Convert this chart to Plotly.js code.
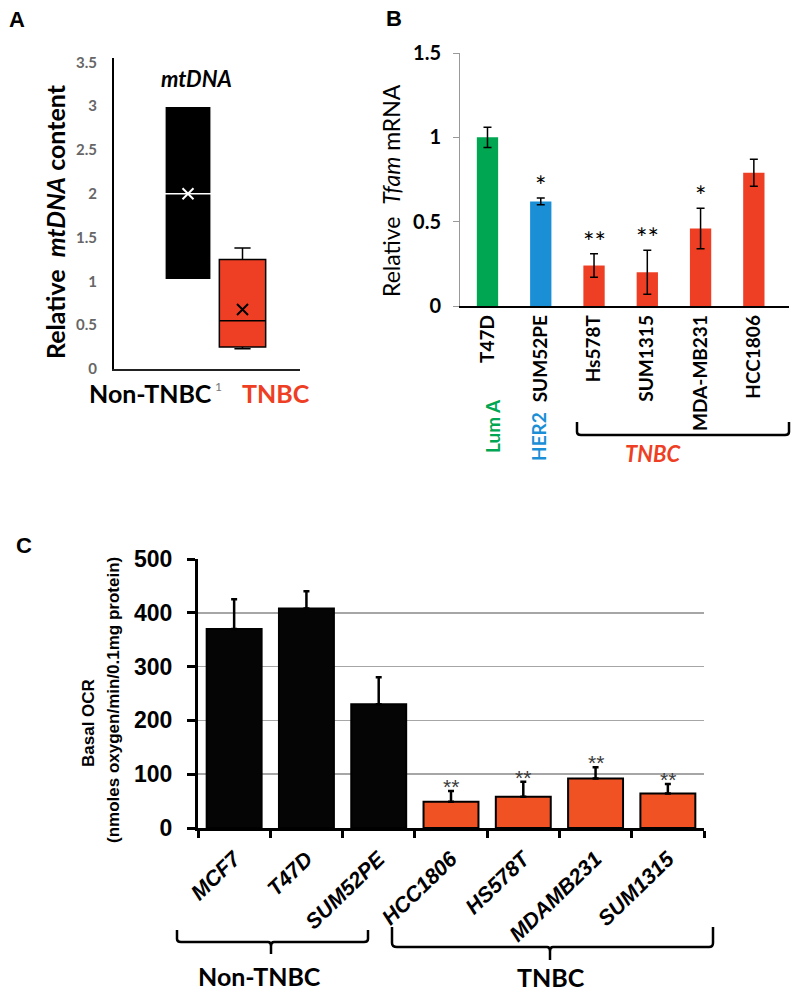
<!DOCTYPE html>
<html>
<head>
<meta charset="utf-8">
<script src="https://cdn.plot.ly/plotly-3.0.1.min.js"></script>
<style>html,body{margin:0;padding:0;background:#fff;}#chart{width:800px;height:995px;}</style>
</head>
<body>
<div id="chart"></div>
<script>
// ---------- Panel A data (box summary) ----------
const A_groups = ['Non-TNBC', 'TNBC'];
const A_q1 = [1.02, 0.25];
const A_median = [2.0, 0.55];
const A_q3 = [3.0, 1.25];
const A_lowerfence = [1.02, 0.23];
const A_upperfence = [3.0, 1.38];
const A_mean = [2.0, 0.68];
const A_ticks = [0, 0.5, 1, 1.5, 2, 2.5, 3, 3.5];

// ---------- Panel B data ----------
const B_lines = ['T47D', 'SUM52PE', 'Hs578T', 'SUM1315', 'MDA-MB231', 'HCC1806'];
const B_subtype = ['Lum A', 'HER2', 'TNBC', 'TNBC', 'TNBC', 'TNBC'];
const B_values = [1.00, 0.62, 0.24, 0.20, 0.46, 0.79];
const B_errors = [0.06, 0.02, 0.07, 0.13, 0.12, 0.08];
const B_sig = ['', '*', '**', '**', '*', ''];
const B_ticks = [0, 0.5, 1, 1.5];

// ---------- Panel C data ----------
const C_lines = ['MCF7', 'T47D', 'SUM52PE', 'HCC1806', 'HS578T', 'MDAMB231', 'SUM1315'];
const C_group = ['Non-TNBC', 'Non-TNBC', 'Non-TNBC', 'TNBC', 'TNBC', 'TNBC', 'TNBC'];
const C_values = [370, 408, 230, 49, 58, 92, 64];
const C_errors = [55, 32, 50, 20, 28, 21, 18];
const C_sig = ['', '', '', '**', '**', '**', '**'];

// ---------- styles ----------
const RED = '#ee3e23';
const GREEN = '#00a651';
const BLUE = '#1b8fd6';
const ORANGE = '#f05224';
const subtypeColor = {'Lum A': GREEN, 'HER2': BLUE, 'TNBC': RED};
const groupColor = {'Non-TNBC': '#050505', 'TNBC': ORANGE};
const CAL = 'Lato, "Open Sans", sans-serif';
const ARI = '"Liberation Sans", Arial, sans-serif';

const W = 800, H = 995;
const px = x => x / W;
const py = y => 1 - y / H;

const traces = [];

// Panel A boxes
traces.push({
  type: 'box', xaxis: 'x', yaxis: 'y',
  x: [0], q1: [A_q1[0]], median: [A_median[0]], q3: [A_q3[0]],
  lowerfence: [A_lowerfence[0]], upperfence: [A_upperfence[0]],
  fillcolor: '#000000', line: {color: '#ffffff', width: 1.5},
  width: 0.85, whiskerwidth: 0.35, boxpoints: false, hoverinfo: 'skip', showlegend: false
});
traces.push({
  type: 'box', xaxis: 'x', yaxis: 'y',
  x: [1], q1: [A_q1[1]], median: [A_median[1]], q3: [A_q3[1]],
  lowerfence: [A_lowerfence[1]], upperfence: [A_upperfence[1]],
  fillcolor: RED, line: {color: '#000000', width: 1.5},
  width: 0.85, whiskerwidth: 0.35, boxpoints: false, hoverinfo: 'skip', showlegend: false
});
traces.push({
  type: 'scatter', mode: 'markers', xaxis: 'x', yaxis: 'y',
  x: [0, 1], y: A_mean,
  marker: {symbol: 'x-thin', size: 11, line: {width: 2, color: ['#ffffff', '#000000']}},
  hoverinfo: 'skip', showlegend: false
});

// Panel B bars
traces.push({
  type: 'bar', xaxis: 'x2', yaxis: 'y2',
  x: B_lines, y: B_values, width: 0.4,
  marker: {color: B_subtype.map(s => subtypeColor[s]), line: {width: 0}},
  error_y: {type: 'data', array: B_errors, visible: true, color: '#000', thickness: 1.5, width: 4},
  hoverinfo: 'skip', showlegend: false
});

// Panel C bars
traces.push({
  type: 'bar', xaxis: 'x3', yaxis: 'y3',
  x: C_lines, y: C_values, width: 0.76,
  marker: {color: C_group.map(g => groupColor[g]), line: {width: 2, color: '#000'}},
  error_y: {type: 'data', symmetric: false, array: C_errors, arrayminus: C_values.map(() => 0),
            visible: true, color: '#000', thickness: 2.5, width: 3},
  hoverinfo: 'skip', showlegend: false
});

const annotations = [];
const shapes = [];

// significance stars
B_lines.forEach((c, i) => {
  if (B_sig[i]) annotations.push({xref: 'x2', yref: 'y2', x: c, y: B_values[i] + B_errors[i],
    yanchor: 'bottom', yshift: -6, text: B_sig[i], showarrow: false,
    font: {family: CAL, size: 27, color: '#000'}});
});
C_lines.forEach((c, i) => {
  if (C_sig[i]) annotations.push({xref: 'x3', yref: 'y3', x: c, y: C_values[i] + C_errors[i],
    yanchor: 'bottom', yshift: -9, text: C_sig[i], showarrow: false,
    font: {family: ARI, size: 21, color: '#3a3a3a'}});
});

function ann(x, y, text, font, extra) {
  annotations.push(Object.assign({xref: 'paper', yref: 'paper', x: px(x), y: py(y),
    xanchor: 'center', yanchor: 'middle', text: text, showarrow: false, font: font}, extra || {}));
}

// panel letters
ann(17, 20, '<b>A</b>', {family: ARI, size: 22, color: '#000'});
ann(394, 19, '<b>B</b>', {family: ARI, size: 22, color: '#000'});
ann(24, 545, '<b>C</b>', {family: ARI, size: 22, color: '#000'});

// Panel A texts
ann(55, 222, '<b>Relative  <i>mtDNA</i> content</b>', {family: CAL, size: 25, color: '#000'}, {textangle: -90});
ann(196, 79, '<b><i>mtDNA</i></b>', {family: CAL, size: 22, color: '#000'});
ann(150, 393, '<b>' + A_groups[0] + '</b>', {family: CAL, size: 25, color: '#000'});
ann(218, 386, '1', {family: CAL, size: 12, color: '#777'});
ann(276, 393, '<b>' + A_groups[1] + '</b>', {family: CAL, size: 25, color: RED});

// Panel B texts
ann(391, 191, 'Relative  <i>Tfam</i> mRNA', {family: CAL, size: 23, color: '#000'}, {textangle: -90});
ann(492, 426, '<b>Lum A</b>', {family: CAL, size: 19, color: GREEN}, {textangle: -90});
ann(538, 437, '<b>HER2</b>', {family: CAL, size: 19, color: BLUE}, {textangle: -90});
ann(653, 453, '<b><i>TNBC</i></b>', {family: CAL, size: 22, color: RED});
shapes.push({type: 'path', xref: 'paper', yref: 'paper', line: {color: '#000', width: 2.5},
  path: `M ${px(577)} ${py(422)} L ${px(577)} ${py(432)} Q ${px(577)} ${py(435)} ${px(581)} ${py(435)} L ${px(785)} ${py(435)} Q ${px(789)} ${py(435)} ${px(789)} ${py(432)} L ${px(789)} ${py(422)}`});

// Panel C texts
ann(88, 723, '<b>Basal OCR</b>', {family: ARI, size: 17, color: '#000'}, {textangle: -90});
ann(113, 700, '<b>(nmoles oxygen/min/0.1mg protein)</b>', {family: ARI, size: 17, color: '#000'}, {textangle: -90});
ann(259, 976, '<b>Non-TNBC</b>', {family: CAL, size: 25, color: '#000'});
ann(551, 977, '<b>TNBC</b>', {family: CAL, size: 25, color: '#000'});
shapes.push({type: 'path', xref: 'paper', yref: 'paper', line: {color: '#000', width: 2.5},
  path: `M ${px(177)} ${py(930)} L ${px(177)} ${py(939)} Q ${px(177)} ${py(942)} ${px(181)} ${py(942)} L ${px(268)} ${py(942)} Q ${px(271)} ${py(942)} ${px(271)} ${py(946)} L ${px(271)} ${py(954)} M ${px(271)} ${py(946)} Q ${px(271)} ${py(942)} ${px(274)} ${py(942)} L ${px(364)} ${py(942)} Q ${px(368)} ${py(942)} ${px(368)} ${py(939)} L ${px(368)} ${py(930)}`});
shapes.push({type: 'path', xref: 'paper', yref: 'paper', line: {color: '#000', width: 2.5},
  path: `M ${px(392)} ${py(927)} L ${px(392)} ${py(943)} Q ${px(392)} ${py(947)} ${px(397)} ${py(947)} L ${px(547)} ${py(947)} Q ${px(550)} ${py(947)} ${px(550)} ${py(951)} L ${px(550)} ${py(960)} M ${px(550)} ${py(951)} Q ${px(550)} ${py(947)} ${px(553)} ${py(947)} L ${px(709)} ${py(947)} Q ${px(713)} ${py(947)} ${px(713)} ${py(943)} L ${px(713)} ${py(927)}`});

const layout = {
  width: W, height: H,
  margin: {l: 0, r: 0, t: 0, b: 0},
  paper_bgcolor: '#fff', plot_bgcolor: 'rgba(0,0,0,0)',
  showlegend: false,
  font: {family: CAL, color: '#000'},
  // Panel A
  xaxis: {domain: [px(114), px(300)], range: [-1.358, 2.055], anchor: 'y',
    showline: true, linecolor: '#222', linewidth: 1.5, showgrid: false, zeroline: false,
    showticklabels: false, ticks: ''},
  yaxis: {domain: [py(369), py(58)], range: [0, 3.55], anchor: 'x',
    showline: true, linecolor: '#000', linewidth: 2, showgrid: false, zeroline: false,
    tickvals: A_ticks, ticktext: A_ticks.map(String), ticks: '',
    ticklabelstandoff: 12,
    tickfont: {family: CAL, size: 15, color: '#666', weight: 'bold'}},
  // Panel B
  xaxis2: {domain: [px(460), px(789)], range: [-0.516, 5.66], anchor: 'y2', type: 'category',
    showline: true, linecolor: '#000', linewidth: 1.5, showgrid: false, zeroline: false,
    ticks: '', tickangle: -90,
    tickfont: {family: CAL, size: 19, color: '#000', weight: 'bold'}},
  yaxis2: {domain: [py(306), py(53)], range: [0, 1.5], anchor: 'x2',
    showline: true, linecolor: '#999', linewidth: 1, showgrid: false, zeroline: false,
    tickvals: B_ticks, ticktext: B_ticks.map(String),
    ticks: 'outside', ticklen: 6, tickcolor: '#999', tickwidth: 1,
    ticklabelstandoff: 8,
    tickfont: {family: CAL, size: 20, color: '#000', weight: 'bold'}},
  // Panel C
  xaxis3: {domain: [px(198), px(704)], range: [-0.5, 6.5], anchor: 'y3', type: 'category',
    showline: true, linecolor: '#000', linewidth: 3, showgrid: false, zeroline: false,
    ticks: 'outside', tickson: 'boundaries', ticklen: 7, tickwidth: 3, tickcolor: '#000',
    tickangle: -44, ticklabelstandoff: 7,
    tickfont: {family: ARI, size: 21.5, color: '#000', weight: 'bold', style: 'italic'}},
  yaxis3: {domain: [py(828), py(559)], range: [0, 500], anchor: 'x3', dtick: 100,
    showline: true, linecolor: '#000', linewidth: 3, zeroline: false,
    showgrid: true, gridcolor: '#a6a6a6', gridwidth: 1.5,
    ticks: 'outside', ticklen: 8, tickwidth: 3, tickcolor: '#000',
    ticklabelstandoff: 10,
    tickfont: {family: ARI, size: 23, color: '#000', weight: 'bold'}},
  annotations: annotations,
  shapes: shapes
};

Plotly.newPlot('chart', traces, layout, {staticPlot: true, displayModeBar: false});
</script>
</body>
</html>
